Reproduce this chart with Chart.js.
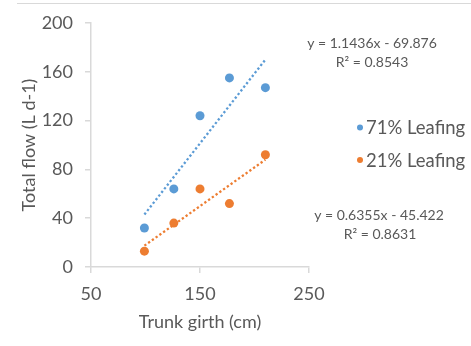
<!DOCTYPE html>
<html>
<head>
<meta charset="utf-8">
<script src="https://cdn.jsdelivr.net/npm/chart.js@4/dist/chart.umd.min.js"></script>
<style>
  html, body { margin: 0; padding: 0; background: #fff; }
  #wrap { width: 471px; height: 346px; position: relative; }
</style>
</head>
<body>
<div id="wrap"><canvas id="chart" width="471" height="346"></canvas></div>
<script>
// data
const girth = [99, 126, 150, 177, 210];
const flow71 = [32, 64, 124, 155, 147];
const flow21 = [13, 36, 64, 52, 92];

// trendline ends
const trendX = [99, 210];
const trend71 = [43, 170];
const trend21 = [17.5, 88];

const seriesNames = ["71% Leafing", "21% Leafing"];
const eq71 = ["y = 1.1436x - 69.876", "R\u00B2 = 0.8543"];
const eq21 = ["y = 0.6355x - 45.422", "R\u00B2 = 0.8631"];

const xTicks = [50, 150, 250];
const yTicks = [0, 40, 80, 120, 160, 200];

const BLUE = "#5B9BD5";
const ORANGE = "#ED7D31";
const TEXT = "#595959";
const AXIS = "#D9D9D9";
const FONT = "Lato";

function toPoints(xs, ys)
{
  return xs.map((x, i) => ({ x: x, y: ys[i] }));
}

const extras = {
  id: "extras",
  afterDraw(chart)
  {
    let ctx = chart.ctx;
    ctx.save();

    // frame line at top
    ctx.strokeStyle = AXIS;
    ctx.lineWidth = 1;
    ctx.beginPath();
    ctx.moveTo(17, 3.5);
    ctx.lineTo(471, 3.5);
    ctx.stroke();

    // legend
    let colors = [BLUE, ORANGE];
    let legendY = [127.5, 160];
    ctx.font = "18.5px " + FONT;
    ctx.textBaseline = "middle";
    ctx.textAlign = "left";
    seriesNames.forEach((name, i) =>
    {
      ctx.fillStyle = colors[i];
      ctx.beginPath();
      ctx.arc(360, legendY[i], 3, 0, Math.PI * 2);
      ctx.fill();
      ctx.fillStyle = TEXT;
      ctx.fillText(name, 366, legendY[i] + 1);
    });

    // trendline equations
    ctx.font = "14px " + FONT;
    ctx.textAlign = "center";
    ctx.fillStyle = TEXT;
    ctx.fillText(eq71[0], 372, 43);
    ctx.fillText(eq71[1], 372, 62);
    ctx.fillText(eq21[0], 379, 215);
    ctx.fillText(eq21[1], 380, 234);

    ctx.restore();
  }
};

const chart = new Chart(document.getElementById("chart"), {
  type: "scatter",
  data: {
    datasets: [
      {
        label: seriesNames[0],
        data: toPoints(girth, flow71),
        backgroundColor: BLUE,
        borderColor: BLUE,
        pointRadius: 4.5,
        pointBorderWidth: 0,
        order: 0
      },
      {
        label: seriesNames[1],
        data: toPoints(girth, flow21),
        backgroundColor: ORANGE,
        borderColor: ORANGE,
        pointRadius: 4.5,
        pointBorderWidth: 0,
        order: 0
      },
      {
        label: "trend71",
        data: toPoints(trendX, trend71),
        type: "line",
        showLine: true,
        borderColor: BLUE,
        borderWidth: 2.3,
        borderDash: [2.3, 2.3],
        pointRadius: 0,
        fill: false,
        order: 1
      },
      {
        label: "trend21",
        data: toPoints(trendX, trend21),
        type: "line",
        showLine: true,
        borderColor: ORANGE,
        borderWidth: 2.3,
        borderDash: [2.3, 2.3],
        pointRadius: 0,
        fill: false,
        order: 1
      }
    ]
  },
  options: {
    responsive: false,
    animation: false,
    devicePixelRatio: 1,
    layout: { padding: { top: 23, right: 162, bottom: 0, left: 0 } },
    plugins: {
      legend: { display: false },
      tooltip: { enabled: false }
    },
    scales: {
      x: {
        type: "linear",
        min: 50,
        max: 250,
        afterBuildTicks: (scale) => { scale.ticks = xTicks.map(v => ({ value: v })); },
        afterFit: (scale) => { scale.height = 79; },
        border: { color: AXIS, width: 1.5 },
        grid: { drawOnChartArea: false, drawTicks: true, tickLength: 6, tickColor: AXIS, lineWidth: 1.5 },
        ticks: { color: TEXT, font: { family: FONT, size: 18 }, padding: 10, maxRotation: 0 },
        title: {
          display: true,
          text: "Trunk girth (cm)",
          color: TEXT,
          font: { family: FONT, size: 18 },
          padding: 13
        }
      },
      y: {
        type: "linear",
        min: 0,
        max: 200,
        afterBuildTicks: (scale) => { scale.ticks = yTicks.map(v => ({ value: v })); },
        afterFit: (scale) => { scale.width = 91; },
        border: { color: AXIS, width: 1.5 },
        grid: { drawOnChartArea: false, drawTicks: true, tickLength: 6, tickColor: AXIS, lineWidth: 1.5 },
        ticks: { color: TEXT, font: { family: FONT, size: 18 }, padding: 12 },
        title: {
          display: true,
          text: "Total flow (L d-1)",
          color: TEXT,
          font: { family: FONT, size: 18 },
          padding: 18
        }
      }
    }
  },
  plugins: [extras]
});
</script>
</body>
</html>
